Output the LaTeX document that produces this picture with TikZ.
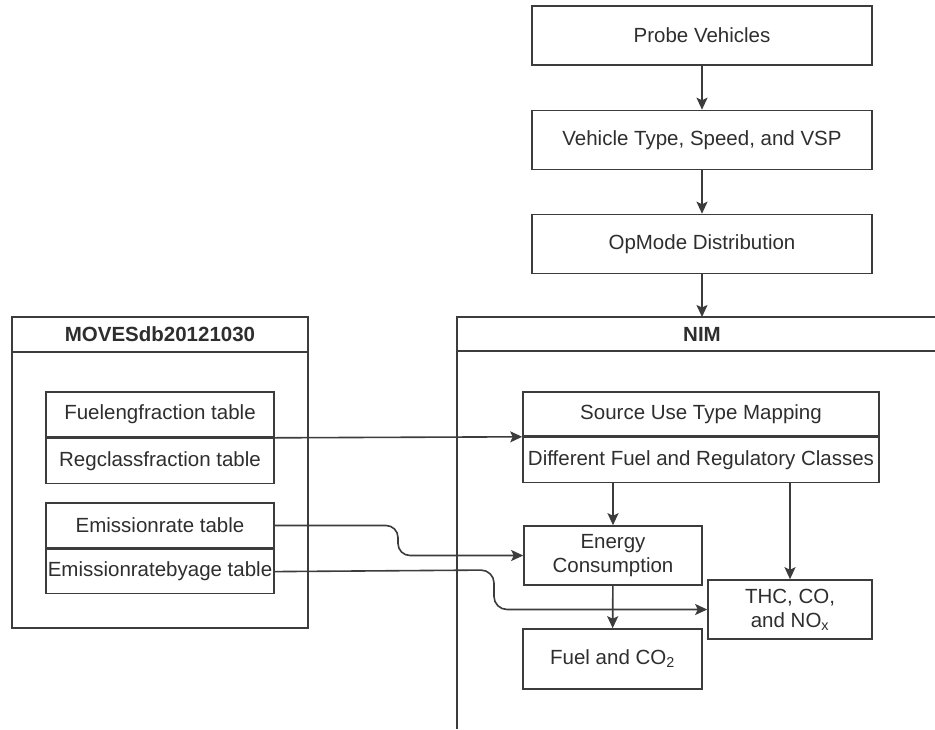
\documentclass[tikz,border=0pt]{standalone}
\usepackage{fontspec}
\setmainfont{Liberation Sans}
\usetikzlibrary{arrows.meta,calc}
\definecolor{ink}{HTML}{2e2e2e}
\definecolor{edge}{HTML}{3c3c3c}
\begin{document}
\begin{tikzpicture}[x=1pt,y=-1pt,
  every node/.style={font=\fontsize{20.5}{24}\selectfont, text=ink},
  box/.style={draw=edge, line width=1.6pt, inner sep=0pt, align=center},
  flow/.style={draw=edge, line width=1.6pt, -{Stealth[length=12pt,width=11pt,inset=2.5pt]}},
  frame/.style={draw=edge, line width=1.6pt},
  title/.style={font=\fontsize{20.5}{24}\selectfont\bfseries}]
\useasboundingbox (0,0) rectangle (935,729);

% processing chain at the top
\node[box, minimum width=340pt, minimum height=59pt] (probe) at (702,35.5) {Probe Vehicles};
\node[box, minimum width=340pt, minimum height=59pt] (vsp) at (702,140) {Vehicle Type, Speed, and VSP};
\node[box, minimum width=340pt, minimum height=59pt] (opm) at (702,244) {OpMode Distribution};

% MOVES database container
\draw[frame] (12,317) rectangle (308,628);
\draw[frame] (12,352) -- (308,352);
\node[title] (movesdb) at (160,334.5) {MOVESdb20121030};
\node[box, minimum width=228pt, minimum height=45pt] (fuelfrac) at (160,414.5) {Fuelengfraction table};
\node[box, minimum width=228pt, minimum height=45pt, anchor=north] (regfrac) at (fuelfrac.south) {Regclassfraction table};
\node[box, minimum width=228pt, minimum height=45pt] (emrate) at (160,525.5) {Emissionrate table};
\node[box, minimum width=228pt, minimum height=44pt, anchor=north] (emage) at (emrate.south) {Emissionratebyage table};

% NIM container (runs past the right and bottom edges)
\coordinate (nimtl) at (457,317);
\draw[frame] (935,317) -- (nimtl) -- (457,729);
\draw[frame] (457,351) -- (935,351);
\node[title] (nim) at (702,334) {NIM};

\node[box, minimum width=356pt, minimum height=44pt] (sut) at (701,414) {Source Use Type Mapping};
\node[box, minimum width=356pt, minimum height=45pt, anchor=north] (classes) at (sut.south) {Different Fuel and Regulatory Classes};
\node[box, minimum width=178pt, minimum height=59pt] (energy) at (613,555.5) {Energy\\Consumption};
\node[box, minimum width=164pt, minimum height=59pt] (thc) at (790,609.5) {THC, CO,\\and NO\textsubscript{x}};
\node[box, minimum width=179pt, minimum height=60pt] (fuelco) at (612.5,659) {Fuel and CO\textsubscript{2}};

% connectors
\draw[flow] (probe) -- (vsp);
\draw[flow] (vsp) -- (opm);
\draw[flow] (opm.south) -- (opm.south |- nimtl);
\draw[flow] (fuelfrac.south east) -- (sut.south west);
\draw[flow] (classes.south -| energy.north) -- (energy.north);
\draw[flow] (classes.south -| thc.north) -- (thc.north);
\draw[flow, rounded corners=12pt] (emrate.east) -- (398,525.5) -- (398,555.5) -- (energy.west);
\draw[flow, rounded corners=13pt] (emage.east) -- (494,570) -- (494,609.5) -- (thc.west);
\draw[flow] (energy) -- (fuelco);
\end{tikzpicture}
\end{document}
